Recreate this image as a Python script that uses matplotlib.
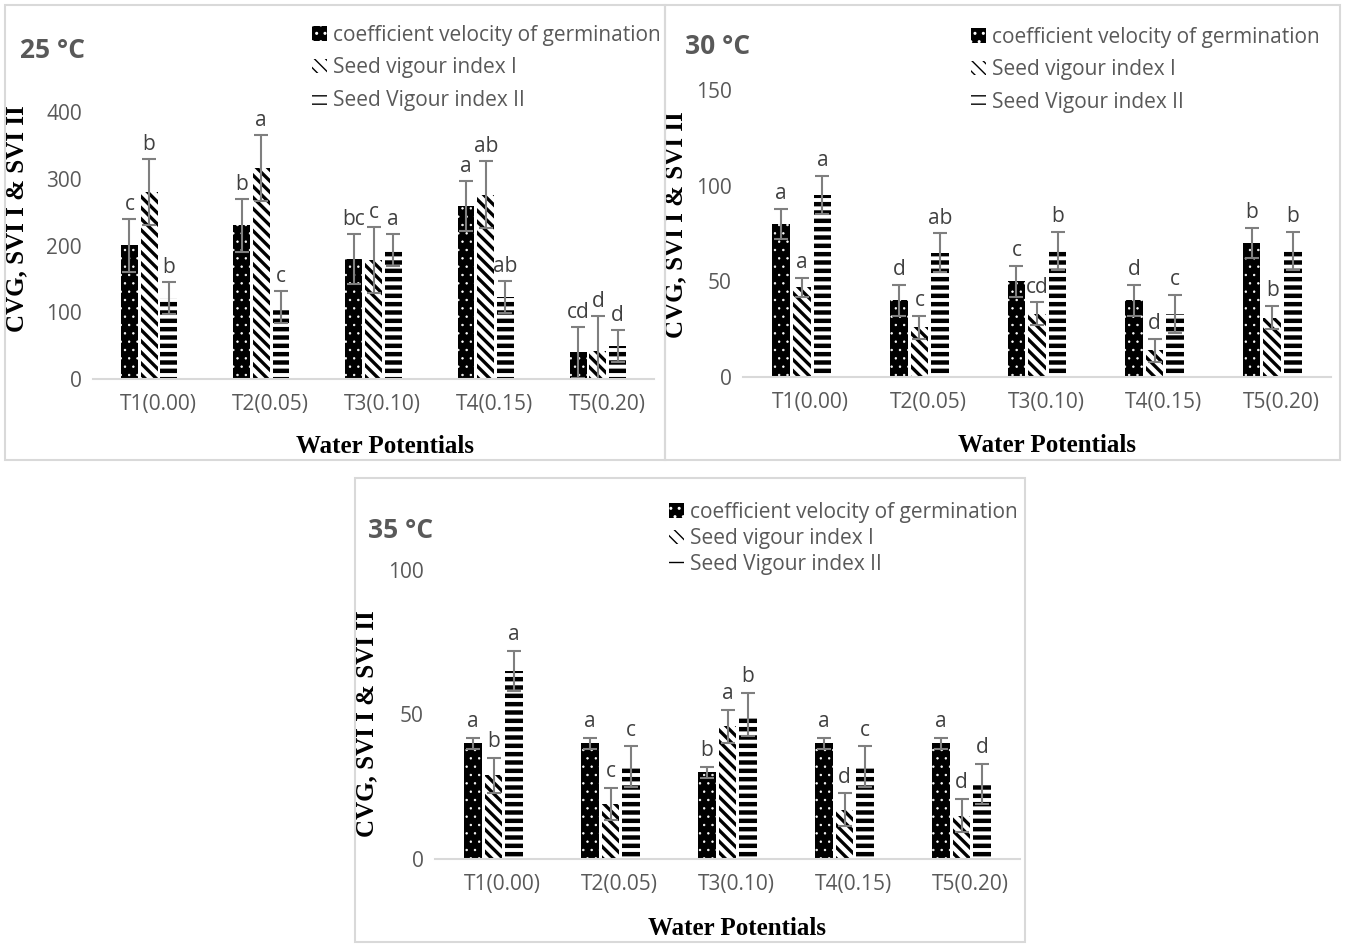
import matplotlib
matplotlib.use('Agg')
import matplotlib.pyplot as plt
import numpy as np
from matplotlib.patches import Rectangle, Patch
from matplotlib.transforms import ScaledTranslation

groups = ['T1(0.00)', 'T2(0.05)', 'T3(0.10)', 'T4(0.15)', 'T5(0.20)']
series = ['coefficient velocity of germination', 'Seed vigour index I', 'Seed Vigour index II']

# 25 °C
cvg_25 = [200, 230, 180, 259, 40]
svi1_25 = [280, 316, 178, 276, 42]
svi2_25 = [122, 108, 193, 123, 50]
cvg_25_err = [39, 39, 37, 38, 38]
svi1_25_err = [50, 50, 49, 50, 52]
svi2_25_err = [24, 24, 24, 24, 24]
cvg_25_let = ['c', 'b', 'bc', 'a', 'cd']
svi1_25_let = ['b', 'a', 'c', 'ab', 'd']
svi2_25_let = ['b', 'c', 'a', 'ab', 'd']

# 30 °C
cvg_30 = [80, 40, 50, 40, 70]
svi1_30 = [47, 26, 33, 14, 31]
svi2_30 = [95, 65, 66, 33, 66]
cvg_30_err = [8, 8, 8, 8, 8]
svi1_30_err = [5, 6, 6, 6, 6]
svi2_30_err = [10, 10, 10, 10, 10]
cvg_30_let = ['a', 'd', 'c', 'd', 'b']
svi1_30_let = ['a', 'c', 'cd', 'd', 'b']
svi2_30_let = ['a', 'ab', 'b', 'c', 'b']

# 35 °C
cvg_35 = [40, 40, 30, 40, 40]
svi1_35 = [29, 19, 46, 17, 15]
svi2_35 = [65, 32, 50, 32, 26]
cvg_35_err = [2, 2, 2, 2, 2]
svi1_35_err = [6, 5.5, 5.7, 5.7, 5.7]
svi2_35_err = [7, 7, 7.4, 7, 7]
cvg_35_let = ['a', 'a', 'b', 'a', 'a']
svi1_35_let = ['b', 'c', 'a', 'd', 'd']
svi2_35_let = ['a', 'c', 'b', 'c', 'd']

gray = '#595959'
FONT = ['Open Sans', 'DejaVu Sans']
SERIF = ['Liberation Serif', 'DejaVu Serif']
plt.rcParams['font.family'] = FONT

W, H = 1345, 944
fig = plt.figure(figsize=(W / 100, H / 100), dpi=100)

# face, edge (= hatch colour), hatch, hatch linewidth
styles = [('black', 'white', '..', 0.5),
          ('white', 'black', '\\\\\\', 2.4),
          ('white', 'black', '--', 3.2)]


def px_axes(left, right, bottom, top):
    return fig.add_axes([left / W, 1 - bottom / H, (right - left) / W, (bottom - top) / H])


def make_bars(ax, ax_series, errs, lets, ymax, yticks, ytext_off):
    x = np.arange(len(groups))
    width = 0.15
    step = 0.175
    for i, (vals, err, let) in enumerate(zip(ax_series, errs, lets)):
        face, edge, hatch, hlw = styles[i]
        pos = x + (i - 1) * step
        with plt.rc_context({'hatch.linewidth': hlw}):
            bars = ax.bar(pos, vals, width, color=face, edgecolor=edge,
                          linewidth=0, hatch=hatch)
        for b in bars:
            if hasattr(b, 'set_hatch_linewidth'):
                b.set_hatch_linewidth(hlw)
        ax.errorbar(pos, vals, yerr=err, fmt='none', ecolor='#7f7f7f',
                    elinewidth=1.5, capsize=5, capthick=1.5)
        for p, v, e, l in zip(pos, vals, err, let):
            ax.text(p, v + e + ytext_off, l, ha='center', va='bottom',
                    fontsize=15, color='#404040')
    ax.set_ylim(0, ymax)
    ax.set_yticks(yticks)
    ax.set_xlim(-0.5, len(groups) - 0.5)
    ax.set_xticks(x)
    ax.set_xticklabels(groups)
    for s in ['top', 'right', 'left']:
        ax.spines[s].set_visible(False)
    ax.spines['bottom'].set_color('#d9d9d9')
    ax.spines['bottom'].set_linewidth(1.5)
    ax.tick_params(axis='both', length=0, labelsize=15, colors=gray)
    ax.tick_params(axis='x', pad=11)
    ax.tick_params(axis='y', pad=8)
    shift = ScaledTranslation(9 / 100, 0, fig.dpi_scale_trans)
    for lab in ax.get_xticklabels():
        lab.set_transform(lab.get_transform() + shift)
    ax.set_ylabel('CVG, SVI I & SVI II', family=SERIF, fontweight='bold', fontsize=18, color='black')
    ax.set_xlabel('Water Potentials', family=SERIF, fontweight='bold', fontsize=18, color='black')


def legend_at(x, y, spacing):
    handles = []
    for face, edge, hatch, hlw in styles:
        handles.append(Patch(facecolor=face, edgecolor=edge, hatch=hatch, linewidth=0))
    leg = fig.legend(handles, series, loc='upper left',
                     bbox_to_anchor=(x / W, 1 - y / H), frameon=False,
                     fontsize=15, handlelength=0.7, handleheight=0.7,
                     handletextpad=0.3, labelspacing=spacing, borderaxespad=0,
                     borderpad=0)
    for t in leg.get_texts():
        t.set_color(gray)


# panel frames
for (l, t, r, b) in [(5, 5, 665, 460), (665, 5, 1340, 460), (355, 478, 1025, 942)]:
    fig.add_artist(Rectangle((l / W, 1 - b / H), (r - l) / W, (b - t) / H,
                             transform=fig.transFigure, fill=False,
                             edgecolor='#d9d9d9', linewidth=1.5))

ax1 = px_axes(93, 654, 379, 112)
make_bars(ax1, [cvg_25, svi1_25, svi2_25], [cvg_25_err, svi1_25_err, svi2_25_err],
          [cvg_25_let, svi1_25_let, svi2_25_let], 400, [0, 100, 200, 300, 400], 6)
ax1.yaxis.set_label_coords(-0.115, 0.6)
ax1.xaxis.set_label_coords(0.52, -0.21)

ax2 = px_axes(743, 1331, 377, 90)
make_bars(ax2, [cvg_30, svi1_30, svi2_30], [cvg_30_err, svi1_30_err, svi2_30_err],
          [cvg_30_let, svi1_30_let, svi2_30_let], 150, [0, 50, 100, 150], 2.5)
ax2.yaxis.set_label_coords(-0.094, 0.53)
ax2.xaxis.set_label_coords(0.517, -0.2)

ax3 = px_axes(435, 1020, 859, 570)
make_bars(ax3, [cvg_35, svi1_35, svi2_35], [cvg_35_err, svi1_35_err, svi2_35_err],
          [cvg_35_let, svi1_35_let, svi2_35_let], 100, [0, 50, 100], 2)
ax3.yaxis.set_label_coords(-0.097, 0.47)
ax3.xaxis.set_label_coords(0.516, -0.2)

# temperature titles
for txt, x, y in [('25 °C', 20, 50), ('30 °C', 685, 46), ('35 °C', 368, 530)]:
    fig.text(x / W, 1 - y / H, txt, fontsize=19, fontweight='bold', color=gray,
             ha='left', va='center')

legend_at(312, 25, 0.55)
legend_at(971, 27, 0.55)
legend_at(669, 502, 0.25)

fig.savefig('out.png', dpi=100)
